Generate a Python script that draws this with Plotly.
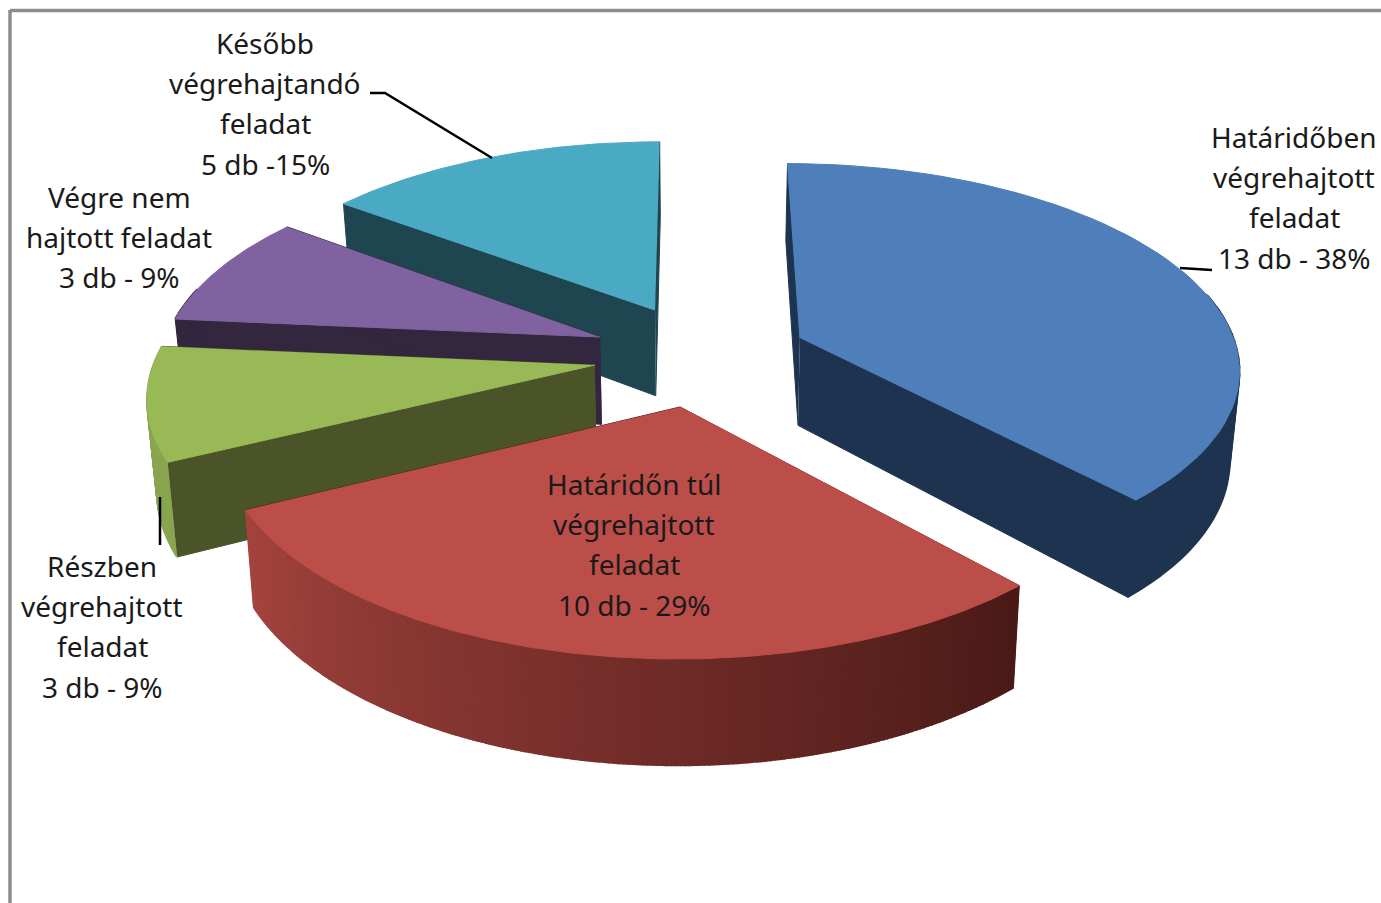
import numpy as np
import plotly.graph_objects as go

categories = ["Határidőben végrehajtott feladat", "Határidőn túl végrehajtott feladat",
              "Részben végrehajtott feladat", "Végre nem hajtott feladat",
              "Később végrehajtandó feladat"]
counts = [13, 10, 3, 3, 5]
count_labels = ["13 db - 38%", "10 db - 29%", "3 db - 9%", "3 db - 9%", "5 db -15%"]
label_lines = [["Határidőben", "végrehajtott", "feladat"],
               ["Határidőn túl", "végrehajtott", "feladat"],
               ["Részben", "végrehajtott", "feladat"],
               ["Végre nem", "hajtott feladat"],
               ["Később", "végrehajtandó", "feladat"]]
pull_x = [0.242, -0.033, -0.227, -0.219, -0.094]
pull_y = [0.060, -0.273, -0.074, 0.065, 0.204]
top_colors = ["#4E7FBA", "#BC4E4A", "#99B957", "#7F629F", "#4AAAC4"]
wall_colors = ["#1D3350", "#4A1D1B", "#4A5428", "#33273F", "#1F4650"]
outer_from = ["#1D3350", "#A5443F", "#8AA54F", "#33273F", "#1F4650"]
outer_to = ["#1D3350", "#4A1A17", "#8AA54F", "#33273F", "#1F4650"]

CX, CY, S, K, A, H, W = 695.0, 350.0, 437.0, 0.46, 0.135, 88.0, 0.982
FONT = "Noto Sans"


def proj(X, Y, low=False):
    X, Y = np.asarray(X, float), np.asarray(Y, float)
    p = 1.0 / (1.0 + A * Y)
    px, py = S * X * p, CY - S * K * Y * p
    if low:
        return CX + px * W, py + H * p
    return CX + px, py


def hexmix(a, b, t):
    ca = [int(a[i:i + 2], 16) for i in (1, 3, 5)]
    cb = [int(b[i:i + 2], 16) for i in (1, 3, 5)]
    return "#%02x%02x%02x" % tuple(round(u + (v - u) * t) for u, v in zip(ca, cb))


fig = go.Figure()


def poly(xs, ys, color, lw=1.0):
    fig.add_trace(go.Scatter(x=list(xs), y=list(ys), mode="lines", fill="toself", fillcolor=color,
                             line=dict(color=color, width=lw), hoverinfo="skip", showlegend=False))


total = sum(counts)
edges = np.cumsum([0] + counts) / total * 2 * np.pi
for i in [4, 0, 3, 2, 1]:
    a0, a1 = edges[i], edges[i + 1]
    ax, ay = pull_x[i], pull_y[i]
    solid = outer_from[i] == outer_to[i]
    th = np.linspace(a0, a1, 60 if solid else 200)
    ex, ey = ax + np.sin(th), ay + np.cos(th)
    for t in (a0, a1):
        xs, ys = [ax, ax + np.sin(t)], [ay, ay + np.cos(t)]
        x0, y0 = proj(xs, ys)
        x1, y1 = proj(xs, ys, True)
        poly(np.r_[x0, x1[::-1]], np.r_[y0, y1[::-1]], wall_colors[i])
    x0, y0 = proj(ex, ey)
    x1, y1 = proj(ex, ey, True)
    vis = np.where(np.cos(th) < 0.25)[0]
    for a, b in zip(vis[:-1], vis[1:]):
        c = hexmix(outer_to[i], outer_from[i], (a - vis[0]) / max(1, len(vis) - 1))
        poly([x0[a], x0[b], x1[b], x1[a]], [y0[a], y0[b], y1[b], y1[a]], c, 2.0)
    tx, ty = proj(np.r_[ax, ex], np.r_[ay, ey])
    poly(tx, ty, top_colors[i])

# leader lines
for lx, ly in [([370, 385, 492], [93, 93, 158]), ([1180, 1212], [268, 270]), ([160, 160], [497, 545])]:
    fig.add_trace(go.Scatter(x=lx, y=ly, mode="lines", line=dict(color="black", width=2.5),
                             hoverinfo="skip", showlegend=False))

label_pos = [(1294, 137), (634, 484), (102, 566), (119, 197), (265, 43)]
for i, (lx, ly) in enumerate(label_pos):
    for n, line in enumerate(label_lines[i] + [count_labels[i]]):
        fig.add_annotation(x=lx, y=ly + n * 40.2, text=line, showarrow=False, xanchor="center", yanchor="middle",
                           font=dict(family=FONT, size=28, color="#1a1a1a"))

fig.add_shape(type="line", x0=10, x1=10, y0=10, y1=903, line=dict(color="#8c8c8c", width=3.5))
fig.add_shape(type="line", x0=10, x1=1381, y0=10.5, y1=10.5, line=dict(color="#8c8c8c", width=3.5))

fig.update_layout(width=1381, height=903, margin=dict(l=0, r=0, t=0, b=0), paper_bgcolor="white",
                  plot_bgcolor="white", showlegend=False,
                  xaxis=dict(range=[0, 1381], visible=False, fixedrange=True),
                  yaxis=dict(range=[903, 0], visible=False, fixedrange=True))
fig.write_html("out.html", config={"displayModeBar": False},
               post_script="document.body.style.margin='0';document.documentElement.style.overflow='hidden';")
